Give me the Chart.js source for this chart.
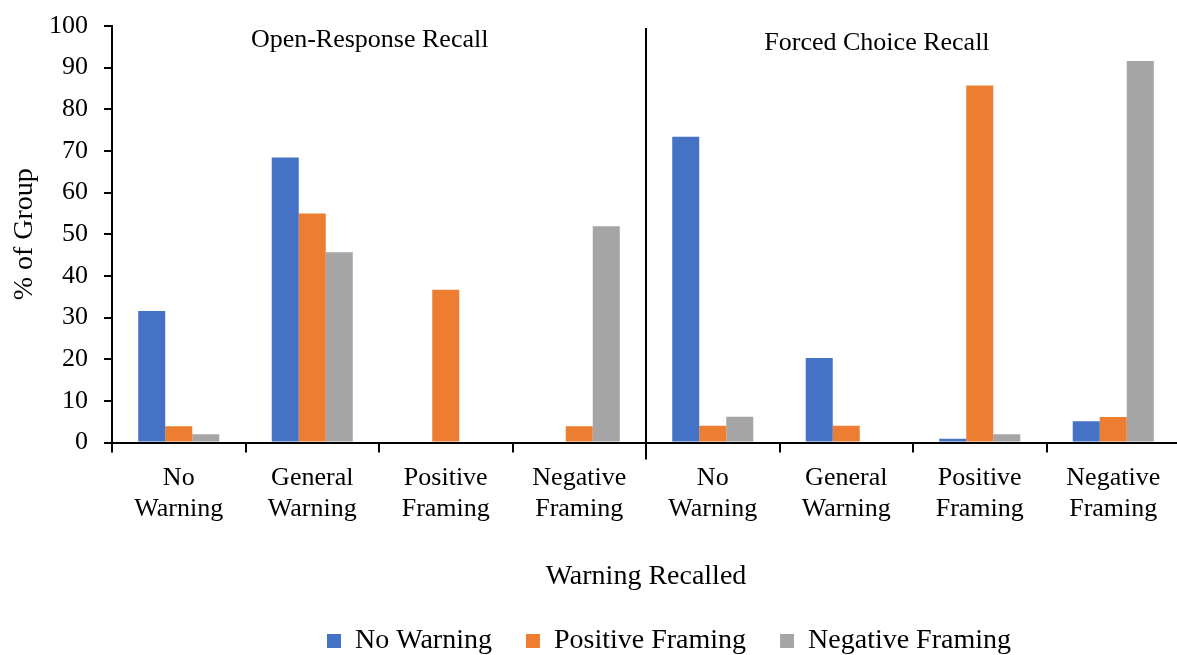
<!DOCTYPE html>
<html>
<head>
<meta charset="utf-8">
<script src="https://cdn.jsdelivr.net/npm/chart.js@4/dist/chart.umd.min.js"></script>
<style>
  html, body { margin: 0; padding: 0; overflow: hidden; background: #fff; }
  #wrap { position: absolute; left: 0; top: 0; width: 1190px; height: 665px; }
</style>
</head>
<body>
<div id="wrap"><canvas id="chart"></canvas></div>
<script>
// Warning recalled, by group, for each recall format (% of group)
const categories = [
  ['No', 'Warning'], ['General', 'Warning'], ['Positive', 'Framing'], ['Negative', 'Framing'],
  ['No', 'Warning'], ['General', 'Warning'], ['Positive', 'Framing'], ['Negative', 'Framing']
];
const seriesNames = ['No Warning', 'Positive Framing', 'Negative Framing'];
const noWarning       = [31.6, 68.4, 0,    0,    73.4, 20.3, 0.9,  5.1];
const positiveFraming = [3.9,  55.0, 36.7, 3.9,  4.0,  4.0,  85.7, 6.1];
const negativeFraming = [2.0,  45.7, 0,    51.9, 6.2,  0,    2.0,  91.6];
const panelTitles = ['Open-Response Recall', 'Forced Choice Recall'];
const yTickMin = 0, yTickMax = 100, yTickStep = 10;

const SERIF = "'Liberation Serif', 'Times New Roman', Times, serif";
const colors = ['#4472C4', '#ED7D31', '#A5A5A5'];

// Vertical separator between the two recall formats plus the panel headings
const panelPlugin = {
  id: 'panels',
  afterDatasetsDraw(chart) {
    const { ctx, chartArea, scales: { x, y } } = chart;
    const sepX = Math.round(x.getPixelForValue(3.5));
    ctx.save();
    ctx.strokeStyle = '#000';
    ctx.lineWidth = 2;
    ctx.beginPath();
    ctx.moveTo(sepX, chartArea.top + 2);
    ctx.lineTo(sepX, chartArea.bottom + 17);
    ctx.stroke();

    ctx.fillStyle = '#000';
    ctx.font = '26px ' + SERIF;
    ctx.textAlign = 'center';
    ctx.textBaseline = 'middle';
    ctx.fillText(panelTitles[0], x.getPixelForValue(1.43), y.getPixelForValue(96.6));
    ctx.fillText(panelTitles[1], x.getPixelForValue(5.23), y.getPixelForValue(95.9));
    ctx.restore();
  }
};

// Nudge the legend row to sit under the plot's centre
const legendShift = {
  id: 'legendShift',
  afterLayout(chart) {
    const lg = chart.legend;
    if (lg) { lg.left += 79; lg.right += 79; }
  }
};

new Chart(document.getElementById('chart'), {
  type: 'bar',
  data: {
    labels: categories,
    datasets: [noWarning, positiveFraming, negativeFraming].map((vals, i) => ({
      label: seriesNames[i],
      data: vals,
      backgroundColor: colors[i],
      borderWidth: 0,
      barPercentage: 1,
      categoryPercentage: 0.607
    }))
  },
  options: {
    responsive: true,
    maintainAspectRatio: false,
    animation: false,
    devicePixelRatio: 1,
    layout: { padding: { top: 0, right: 10, bottom: 0, left: 0 } },
    plugins: {
      tooltip: { enabled: false },
      legend: {
        position: 'bottom',
        labels: {
          font: { family: SERIF, size: 28 },
          color: '#000',
          boxWidth: 14,
          boxHeight: 14,
          padding: 34
        }
      }
    },
    scales: {
      x: {
        ticks: {
          font: { family: SERIF, size: 26, lineHeight: 1.2 },
          color: '#000',
          padding: 10,
          maxRotation: 0,
          autoSkip: false
        },
        grid: { offset: true, drawOnChartArea: false, drawTicks: true, tickLength: 10, color: '#000', lineWidth: 2 },
        border: { color: '#000', width: 2 },
        title: {
          display: true,
          text: 'Warning Recalled',
          font: { family: SERIF, size: 28 },
          color: '#000',
          padding: { top: 0, bottom: 0 }
        },
        afterFit(s) { s.height = 150.5; }
      },
      y: {
        min: yTickMin,
        max: yTickMax,
        ticks: {
          stepSize: yTickStep,
          font: { family: SERIF, size: 26 },
          color: '#000',
          padding: 16
        },
        grid: { drawOnChartArea: false, drawTicks: true, tickLength: 8, color: '#000', lineWidth: 2 },
        border: { color: '#000', width: 2 },
        title: {
          display: true,
          text: '% of Group',
          font: { family: SERIF, size: 28 },
          color: '#000',
          padding: { top: 8, bottom: 0 }
        },
        afterFit(s) { s.width = 112; s.paddingTop = 26; }
      }
    }
  },
  plugins: [panelPlugin, legendShift]
});
</script>
</body>
</html>
